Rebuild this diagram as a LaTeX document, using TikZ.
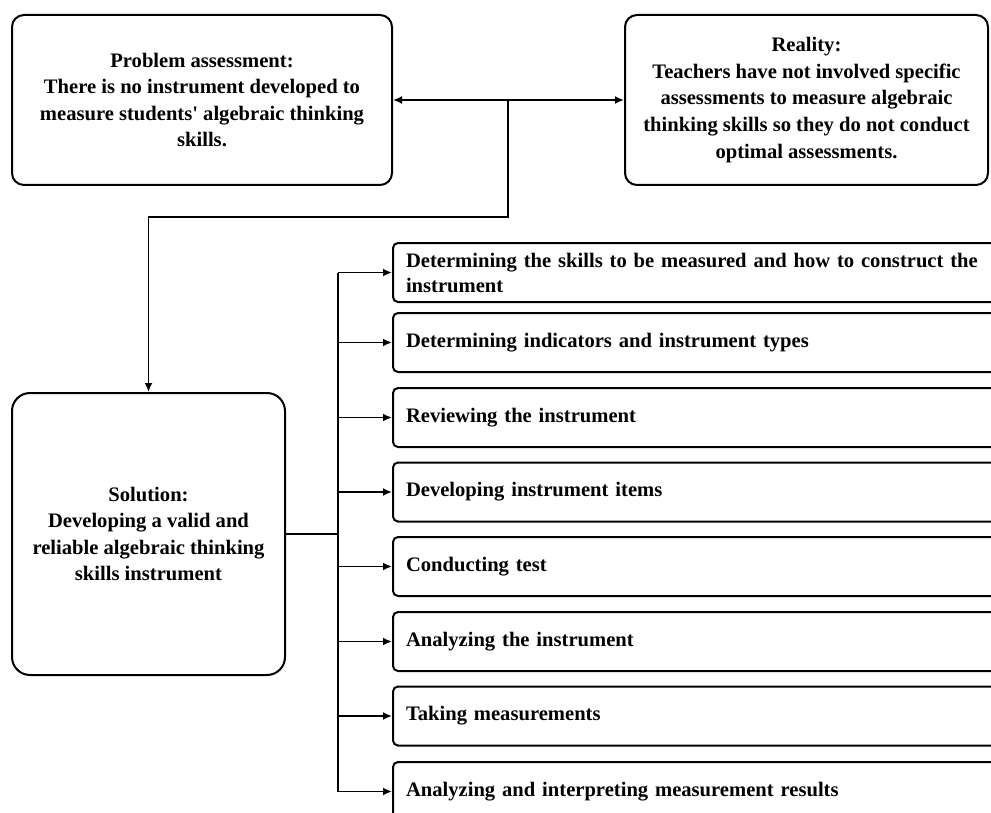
\documentclass[tikz,border=0pt]{standalone}
\usepackage{fontspec}
\setmainfont{Liberation Serif}
\usetikzlibrary{arrows.meta}

\begin{document}
\begin{tikzpicture}[x=0.5pt, y=-0.5pt,
	every node/.style={text centered, align=center, font=\bfseries\fontsize{10.3}{13.3}\selectfont},
	bigbox/.style={rectangle, draw, line width=1pt, rounded corners=6pt, inner sep=0pt},
	stepbox/.style={rectangle, draw, line width=1pt, rounded corners=2.5pt, anchor=west,
		minimum width=310pt, minimum height=29.5pt, text width=297pt, inner xsep=6.5pt,
		align=left, font=\bfseries\fontsize{10.3}{12.5}\selectfont},
	link/.style={line width=0.9pt, -{Latex[length=4.5pt,width=4pt]}}]
	\useasboundingbox (0,0) rectangle (991,813);
	\clip (0,0) rectangle (991,813);

	\node[bigbox, minimum width=190pt, minimum height=85pt] (prob) at (202,100)
		{Problem assessment:\\There is no instrument developed to\\measure students\textquotesingle{} algebraic thinking\\skills.};
	\node[bigbox, minimum width=181.5pt, minimum height=85pt] (real) at (806.5,100)
		{Reality:\\Teachers have not involved specific\\assessments to measure algebraic\\thinking skills so they do not conduct\\optimal assessments.};
	\node[bigbox, rounded corners=9pt, minimum width=136.5pt, minimum height=141pt] (sol) at (148.5,534)
		{Solution:\\Developing a valid and\\reliable algebraic thinking\\skills instrument};

	\node[stepbox] (s1) at (392,272.5) {Determining the skills to be measured and how to construct the\\instrument};
	\node[stepbox] (s2) at (392,342.5) {Determining indicators and instrument types};
	\node[stepbox] (s3) at (392,417.5) {Reviewing the instrument};
	\node[stepbox] (s4) at (392,492) {Developing instrument items};
	\node[stepbox] (s5) at (392,566.5) {Conducting test};
	\node[stepbox] (s6) at (392,641.5) {Analyzing the instrument};
	\node[stepbox] (s7) at (392,716) {Taking measurements};
	\node[stepbox] (s8) at (392,791.5) {Analyzing and interpreting measurement results};

	\coordinate (j1) at (508,100);
	\coordinate (j2) at (508,217);
	\coordinate (bus) at (338,534);

	% problem <-> reality, then down to the solution
	\draw[link, {Latex[length=4.5pt,width=4pt]}-{Latex[length=4.5pt,width=4pt]}] (prob.east) -- (real.west);
	\draw[link] (j1) -- (j2) -| (sol.north);

	% solution to the steps
	\draw[line width=0.9pt] (sol.east) -- (bus)
		(bus |- s1.west) -- (bus |- s8.west);
	\draw[link] (bus |- s1.west) -- (s1.west);
	\draw[link] (bus |- s2.west) -- (s2.west);
	\draw[link] (bus |- s3.west) -- (s3.west);
	\draw[link] (bus |- s4.west) -- (s4.west);
	\draw[link] (bus |- s5.west) -- (s5.west);
	\draw[link] (bus |- s6.west) -- (s6.west);
	\draw[link] (bus |- s7.west) -- (s7.west);
	\draw[link] (bus |- s8.west) -- (s8.west);
\end{tikzpicture}
\end{document}
